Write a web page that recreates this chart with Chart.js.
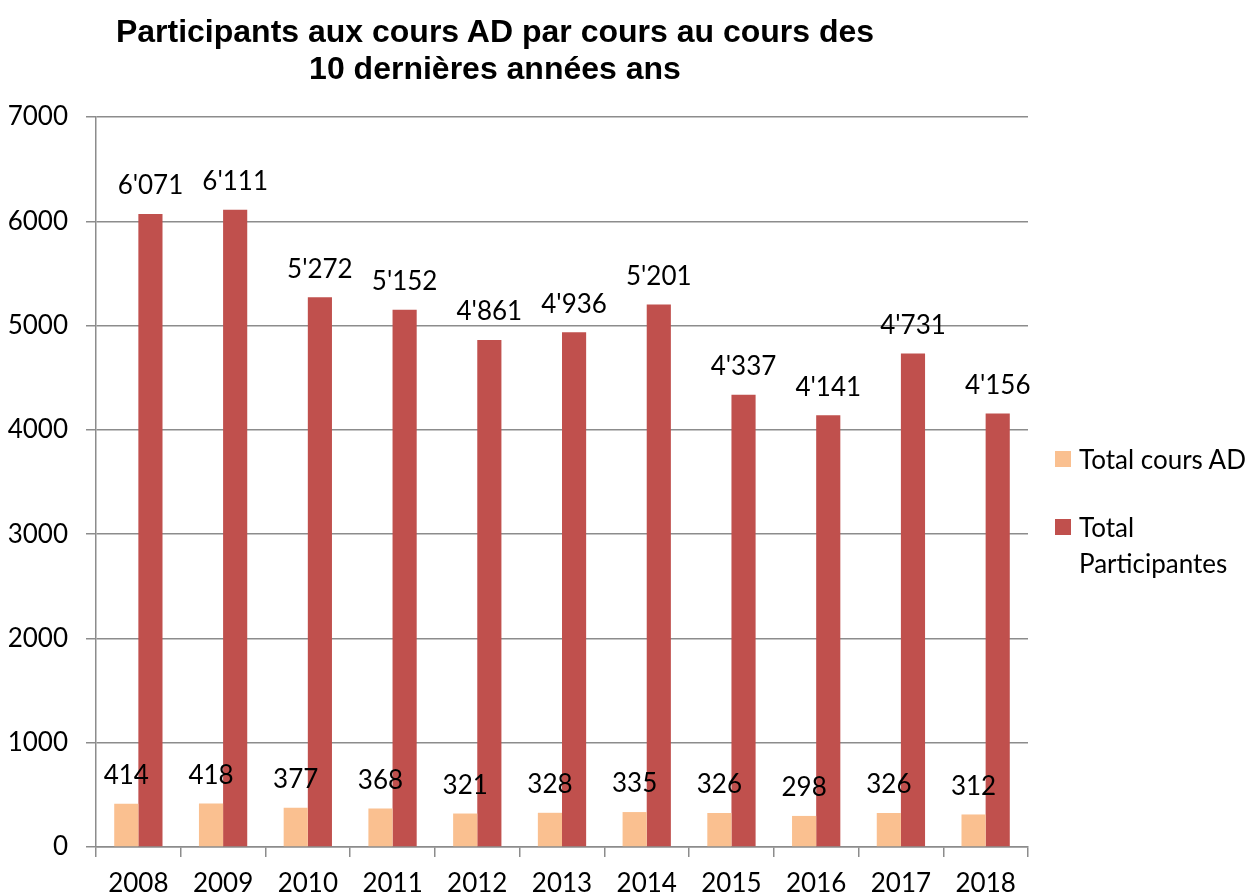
<!DOCTYPE html>
<html>
<head>
<meta charset="utf-8">
<script src="https://cdn.jsdelivr.net/npm/chart.js@4.4.0/dist/chart.umd.min.js"></script>
<style>
    body { margin: 0; background: #fff; }
    #wrap { position: relative; width: 1254px; height: 894px; }
    #title {
        position: absolute; left: 0; top: 13px; width: 990px;
        text-align: center; font: bold 32px "Liberation Sans", Arial, sans-serif;
        line-height: 37px; color: #000;
    }
    #legend { position: absolute; left: 1055px; top: 441px; font: 26px Lato, sans-serif; color: #000; }
    .item { display: flex; align-items: flex-start; margin-bottom: 32px; }
    .box { width: 16px; height: 16px; margin-top: 10px; margin-right: 8px; flex: none; }
    .txt { width: 190px; line-height: 36px; }
</style>
</head>
<body>
<div id="wrap">
    <canvas id="chart" width="1254" height="894"></canvas>
    <div id="title">Participants aux cours AD par cours au cours des<br>10 dernières années ans</div>
    <div id="legend"></div>
</div>
<script>
// Data
const years = ['2008', '2009', '2010', '2011', '2012', '2013', '2014', '2015', '2016', '2017', '2018'];
const coursAD = [414, 418, 377, 368, 321, 328, 335, 326, 298, 326, 312];
const participantes = [6071, 6111, 5272, 5152, 4861, 4936, 5201, 4337, 4141, 4731, 4156];
const seriesNames = ['Total cours AD', 'Total Participantes'];
const seriesColors = ['#FAC090', '#C0504D'];
const yMin = 0, yMax = 7000, yStep = 1000;

const gridColor = '#8c8c8c';

// 6071 -> 6'071
function formatValue(n) {
    if (n < 1000) return String(n);
    return Math.floor(n / 1000) + "'" + String(n % 1000).padStart(3, '0');
}

// Value labels above the bars
const valueLabels = {
    id: 'valueLabels',
    afterDatasetsDraw(chart) {
        const ctx = chart.ctx;
        ctx.save();
        ctx.font = '26px Lato, sans-serif';
        ctx.fillStyle = '#000';
        ctx.textAlign = 'center';
        ctx.textBaseline = 'middle';
        chart.data.datasets.forEach((ds, i) => {
            const meta = chart.getDatasetMeta(i);
            meta.data.forEach((bar, j) => {
                ctx.fillText(formatValue(ds.data[j]), bar.x, bar.y - 28);
            });
        });
        ctx.restore();
    }
};

const ctx = document.getElementById('chart').getContext('2d');
const chart = new Chart(ctx, {
    type: 'bar',
    data: {
        labels: years,
        datasets: [
            { label: seriesNames[0], data: coursAD, backgroundColor: seriesColors[0] },
            { label: seriesNames[1], data: participantes, backgroundColor: seriesColors[1] }
        ]
    },
    options: {
        responsive: false,
        animation: false,
        categoryPercentage: 0.57,
        barPercentage: 1.0,
        layout: { padding: { top: 117, right: 226, bottom: 0, left: 0 } },
        plugins: {
            legend: { display: false },
            title: { display: false },
            tooltip: { enabled: false }
        },
        scales: {
            x: {
                grid: {
                    display: true,
                    drawOnChartArea: false,
                    drawTicks: true,
                    tickLength: 10,
                    color: gridColor,
                    lineWidth: 1.5
                },
                border: { color: gridColor, width: 1.5 },
                ticks: {
                    color: '#000',
                    font: { family: 'Lato, sans-serif', size: 26 },
                    padding: 11,
                    maxRotation: 0
                },
                afterFit: function(scale) { scale.height = 47; }
            },
            y: {
                min: yMin,
                max: yMax,
                grid: {
                    color: gridColor,
                    lineWidth: 1.5,
                    tickLength: 10
                },
                border: { color: gridColor, width: 1.5 },
                ticks: {
                    stepSize: yStep,
                    color: '#000',
                    font: { family: 'Lato, sans-serif', size: 26 },
                    padding: 18,
                    callback: function(value) { return String(value); }
                },
                afterFit: function(scale) { scale.width = 96; }
            }
        }
    },
    plugins: [valueLabels]
});

// HTML legend (lets the second label wrap like the original)
const legend = document.getElementById('legend');
legend.innerHTML = chart.data.datasets.map(ds => `
    <div class="item">
        <div class="box" style="background:${ds.backgroundColor}"></div>
        <div class="txt">${ds.label}</div>
    </div>
`).join('');
</script>
</body>
</html>
